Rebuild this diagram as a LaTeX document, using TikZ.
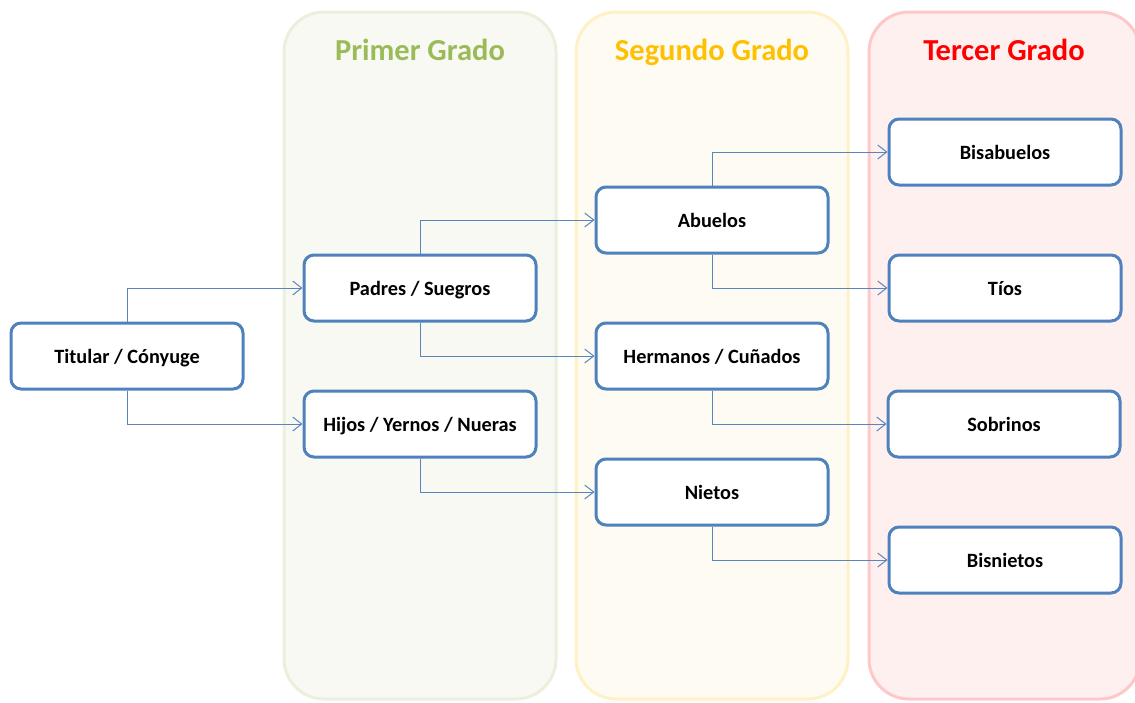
\documentclass[tikz,border=0pt]{standalone}
\usepackage{fontspec}
\setmainfont{Carlito}
\usetikzlibrary{arrows.meta}
\definecolor{boxblue}{HTML}{4F81BD}
\definecolor{lineblue}{HTML}{5A84BE}
\definecolor{gfill}{HTML}{F9F9F4}
\definecolor{gdraw}{HTML}{EAF0DC}
\definecolor{yfill}{HTML}{FEFBF3}
\definecolor{ydraw}{HTML}{FFF0C6}
\definecolor{rfill}{HTML}{FFF0F0}
\definecolor{rdraw}{HTML}{FFC8C8}
\definecolor{tgreen}{HTML}{9BBB59}
\definecolor{tgold}{HTML}{FFC000}
\definecolor{tred}{HTML}{FF0000}
\tikzset{
  panel/.style={line width=3pt, rounded corners=40pt},
  title/.style={font=\fontsize{30.5}{34}\selectfont\bfseries, anchor=base, inner sep=0pt},
  rel/.style={draw=boxblue, line width=3pt, rounded corners=10pt, fill=white,
    minimum width=232pt, minimum height=66pt, inner sep=0pt,
    text height=17pt, text depth=2pt,
    font=\fontsize{20.3}{23}\selectfont\bfseries, text=black},
  conn/.style={draw=lineblue, line width=1pt, -{Straight Barb[length=9pt,width=14pt,line width=1pt]}}
}
\begin{document}
\begin{tikzpicture}[x=1pt,y=-1pt]
\useasboundingbox (0,0) rectangle (1135,702);
\begin{scope}
\clip (0,0) rectangle (1135,702);
\draw[panel, fill=gfill, draw=gdraw] (284,12) rectangle (556,699);
\draw[panel, fill=yfill, draw=ydraw] (576,12) rectangle (848,699);
\draw[panel, fill=rfill, draw=rdraw] (869,12) rectangle (1140,699);
\end{scope}
\node[title, text=tgreen] (t1) at (420,60) {Primer Grado};
\node[title, text=tgold] (t2) at (712,60) {Segundo Grado};
\node[title, text=tred] (t3) at (1004,60) {Tercer Grado};

\node[rel] (tit) at (127,356) {Titular / Cónyuge};
\node[rel] (pad) at (420,288) {Padres / Suegros};
\node[rel] (hij) at (420,424) {Hijos / Yernos / Nueras};
\node[rel] (abu) at (712,220) {Abuelos};
\node[rel] (her) at (712,356) {Hermanos / Cuñados};
\node[rel] (nie) at (712,492) {Nietos};
\node[rel] (bis) at (1005,152) {Bisabuelos};
\node[rel] (tio) at (1005,288) {Tíos};
\node[rel] (sob) at (1004,424) {Sobrinos};
\node[rel] (bin) at (1005,560) {Bisnietos};

\draw[conn] (tit.north) |- (pad.west);
\draw[conn] (tit.south) |- (hij.west);
\draw[conn] (pad.north) |- (abu.west);
\draw[conn] (pad.south) |- (her.west);
\draw[conn] (hij.south) |- (nie.west);
\draw[conn] (abu.north) |- (bis.west);
\draw[conn] (abu.south) |- (tio.west);
\draw[conn] (her.south) |- (sob.west);
\draw[conn] (nie.south) |- (bin.west);
\end{tikzpicture}
\end{document}
